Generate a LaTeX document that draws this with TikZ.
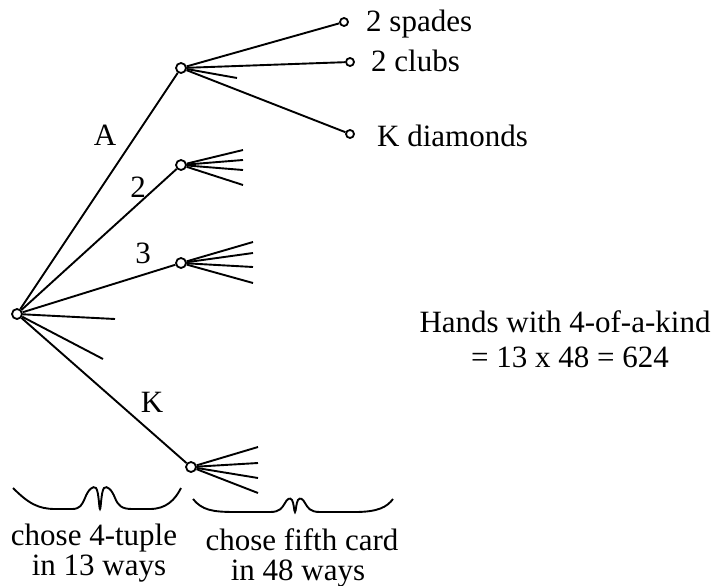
\documentclass[tikz,border=0pt]{standalone}
\usepackage{fontspec}
\setmainfont{Liberation Serif}
\begin{document}
\begin{tikzpicture}[x=1pt,y=-1pt,
  every node/.style={font=\fontsize{31}{35}\selectfont},
  bignode/.style={circle,draw,line width=1.8pt,inner sep=0pt,minimum size=10pt},
  leafnode/.style={circle,draw,line width=1.8pt,inner sep=0pt,minimum size=8pt},
  edge/.style={line width=1.9pt},
  brace/.style={line width=1.9pt},
  lbl/.style={inner sep=0pt,anchor=base}]
\useasboundingbox (0,0) rectangle (712,586);
% nodes
\node[bignode] (r) at (17,314) {};
\node[bignode] (a) at (181,68) {};
\node[bignode] (b2) at (181,165) {};
\node[bignode] (b3) at (181,263) {};
\node[bignode] (bk) at (191,467) {};
\node[leafnode] (s) at (344,22) {};
\node[leafnode] (c) at (350,62) {};
\node[leafnode] (d) at (350,134) {};
% stub ends
\coordinate (r1) at (115,319);
\coordinate (r2) at (103,359);
\coordinate (a1) at (237,78);
\coordinate (p1) at (243,150);
\coordinate (p2) at (243,160);
\coordinate (p3) at (243,170);
\coordinate (p4) at (243,185);
\coordinate (q1) at (253,242);
\coordinate (q2) at (253,253);
\coordinate (q3) at (253,267);
\coordinate (q4) at (253,283);
\coordinate (k1) at (258,447);
\coordinate (k2) at (258,463);
\coordinate (k3) at (258,478);
\coordinate (k4) at (258,493);
% edges
\draw[edge] (r) -- (a);
\draw[edge] (r) -- (b2);
\draw[edge] (r) -- (b3);
\draw[edge] (r) -- (bk);
\draw[edge] (r) -- (r1);
\draw[edge] (r) -- (r2);
\draw[edge] (a) -- (s);
\draw[edge] (a) -- (c);
\draw[edge] (a) -- (d);
\draw[edge] (a) -- (a1);
\foreach \t in {p1,p2,p3,p4} \draw[edge] (b2) -- (\t);
\foreach \t in {q1,q2,q3,q4} \draw[edge] (b3) -- (\t);
\foreach \t in {k1,k2,k3,k4} \draw[edge] (bk) -- (\t);
% edge labels
\node[lbl] (la) at (105,145) {A};
\node[lbl] (l2) at (138,197) {2};
\node[lbl] (l3) at (143,263) {3};
\node[lbl] (lk) at (152,412) {K};
% leaf labels
\node[lbl,anchor=base west] (ts) at (366,32) {2 spades};
\node[lbl,anchor=base west] (tc) at (371,72) {2 clubs};
\node[lbl,anchor=base west] (td) at (377,146) {K diamonds};
% result text
\node[lbl] (res1) at (565,332) {Hands with 4-of-a-kind};
\node[lbl] (res2) at (570,367) {= 13 x 48 = 624};
% braces
\draw[brace] (13,488) .. controls (28,503) and (38,509) .. (55,509)
  -- (72,509) .. controls (80,509) and (82,505) .. (85,498)
  .. controls (88,490) and (93,485) .. (96,488)
  .. controls (99,492) and (99,509) .. (100,509)
  .. controls (101,509) and (101,492) .. (104,488)
  .. controls (107,485) and (112,490) .. (115,498)
  .. controls (118,505) and (121,509) .. (132,509)
  -- (150,509) .. controls (166,509) and (175,500) .. (181,488);
\draw[brace] (193,499) .. controls (202,510) and (212,512) .. (235,512)
  -- (270,512) .. controls (280,512) and (282,508) .. (285,503)
  .. controls (287,499) and (290,497) .. (292,500)
  .. controls (294,503) and (294,512) .. (295,512)
  .. controls (296,512) and (296,503) .. (298,500)
  .. controls (300,497) and (303,499) .. (305,503)
  .. controls (308,508) and (310,512) .. (320,512)
  -- (355,512) .. controls (378,512) and (387,507) .. (393,499);
% brace texts
\node[lbl] (t1a) at (94,545) {chose 4-tuple};
\node[lbl] (t1b) at (99,575) {in 13 ways};
\node[lbl] (t2a) at (302,550) {chose fifth card};
\node[lbl] (t2b) at (298,580) {in 48 ways};
\end{tikzpicture}
\end{document}
